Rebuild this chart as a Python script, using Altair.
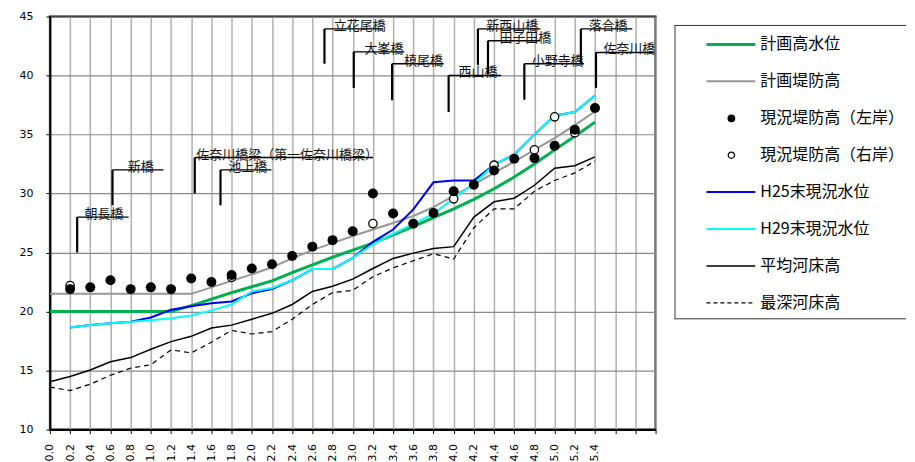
import altair as alt
import pandas as pd

# ---------------- data ----------------
km = [0.0, 0.2, 0.4, 0.6, 0.8, 1.0, 1.2, 1.4, 1.6, 1.8, 2.0, 2.2, 2.4, 2.6,
      2.8, 3.0, 3.2, 3.4, 3.6, 3.8, 4.0, 4.2, 4.4, 4.6, 4.8, 5.0, 5.2, 5.4]
tick_values = [0.0, 0.2, 0.4, 0.6, 0.8, 1.0, 1.2, 1.4, 1.6, 1.8, 2.0, 2.2, 2.4,
               2.6, 2.8, 3.0, 3.2, 3.4, 3.6, 3.8, 4.0, 4.2, 4.4, 4.6, 4.8, 5.0,
               5.2, 5.4, 5.6, 5.8, 6.0]
y_ticks = [10, 15, 20, 25, 30, 35, 40, 45]

plan_hwl = [20.0, 20.0, 20.0, 20.0, 20.0, 20.0, 20.0, 20.5, 21.05, 21.6, 22.1,
            22.6, 23.3, 23.95, 24.6, 25.2, 25.8, 26.5, 27.2, 27.95, 28.7, 29.5,
            30.4, 31.4, 32.5, 33.7, 34.85, 36.05]
plan_levee = [21.5, 21.5, 21.5, 21.5, 21.5, 21.5, 21.5, 21.5, 22.05, 22.6, 23.15,
              23.75, 24.5, 25.2, 25.8, 26.4, 26.95, 27.5, 28.1, 28.85, 29.8,
              30.75, 31.75, 32.7, 33.7, 34.7, 35.8, 36.95]
levee_left = [None, 21.9, 22.05, 22.65, 21.9, 22.05, 21.9, 22.8, 22.5, 23.1,
              23.65, 24.0, 24.7, 25.5, 26.05, 26.8, 30.0, 28.3, 27.45, 28.35,
              30.2, 30.75, 31.95, 32.95, 33.0, 34.05, 35.4, 37.25]
levee_right = [None, 22.2, None, None, None, None, None, None, None, 22.9,
               None, None, None, None, None, None, 27.45, None, None, None,
               29.55, None, 32.4, None, 33.7, 36.5, 35.15, None]
h25 = [None, 18.65, 18.85, 19.0, 19.13, 19.5, 20.15, 20.45, 20.7, 20.85, 21.55,
       21.9, 22.65, 23.6, 23.6, 24.55, 25.9, 26.95, 28.65, 30.95, 31.1, 31.1,
       32.45, 33.3, 35.0, 36.6, 36.9, 38.3]
h29 = [None, 18.65, 18.85, 19.0, 19.13, 19.27, 19.44, 19.66, 20.1, 20.6, 21.7,
       22.0, 22.65, 23.6, 23.6, 24.55, 25.7, 26.6, 27.4, 28.3, 29.6, 30.8,
       32.45, 33.3, 35.0, 36.6, 36.9, 38.3]
bed_mean = [14.05, 14.5, 15.05, 15.75, 16.1, 16.8, 17.45, 17.9, 18.6, 18.85,
            19.35, 19.85, 20.6, 21.7, 22.15, 22.75, 23.65, 24.5, 24.95, 25.35,
            25.5, 28.0, 29.3, 29.6, 30.7, 32.15, 32.35, 33.1]
bed_deep = [13.6, 13.3, 13.85, 14.6, 15.2, 15.5, 16.75, 16.5, 17.4, 18.4, 18.1,
            18.3, 19.35, 20.6, 21.6, 21.8, 22.95, 23.7, 24.3, 24.9, 24.45, 27.1,
            28.7, 28.7, 30.2, 31.1, 31.75, 32.75]

bridge_names = ["朝長橋", "新橋", "佐奈川橋梁（第一佐奈川橋梁）", "池上橋", "立花尾橋",
                "大峯橋", "槙尾橋", "西山橋", "新西山橋", "田子田橋", "小野寺橋",
                "落合橋", "佐奈川橋"]
bridge_km = [0.27, 0.62, 1.435, 1.69, 2.72, 3.01, 3.39, 3.95, 4.24, 4.34, 4.70,
             5.26, 5.41]
bridge_low = [25.0, 29.0, 30.0, 29.0, 41.0, 38.95, 37.9, 36.9, 40.9, 40.1, 37.95,
              41.0, 38.95]
bridge_high = [28.0, 32.0, 33.05, 32.0, 43.95, 42.0, 41.0, 40.0, 43.95, 42.95,
               41.0, 43.95, 41.95]
bridge_end = [0.78, 1.125, 3.2, 2.195, 3.29, 3.51, 3.9, 4.47, 4.86, 4.86, 5.29,
              5.77, 5.98]
bridge_label_km = [0.535, 0.90, 2.35, 1.96, 3.07, 3.31, 3.70, 4.24, 4.58, 4.71,
                   5.03, 5.53, 5.74]

legend_names = ["計画高水位", "計画堤防高", "現況堤防高（左岸）", "現況堤防高（右岸）",
                "H25末現況水位", "H29末現況水位", "平均河床高", "最深河床高"]
legend_kind = ["line", "line", "dot", "ring", "line", "line", "line", "dash"]
legend_color = ["#00b050", "#969696", "#000000", "#000000", "#0000ff", "#00ffff",
                "#000000", "#000000"]
legend_width = [3, 2, 1, 1, 2, 2, 1.5, 1.2]

# ---------------- helpers ----------------
FONT_NUM = "DejaVu Sans"
FONT_JP = "Noto Sans CJK JP"


def sdf(vals):
    return pd.DataFrame({"km": km, "v": vals}).dropna()


x_axis = alt.Axis(values=tick_values, title=None, grid=True, gridColor="#b0b0b0",
                  gridWidth=1.5, labelAngle=270, labelFlush=False,
                  labelExpr="datum.value <= 5.45 ? format(datum.value, '.1f') : ''",
                  tickSize=4, tickColor="#000", domainColor="#000", domainWidth=2,
                  labelPadding=10, labelFont=FONT_NUM, labelFontSize=11,
                  labelColor="#000")
y_axis = alt.Axis(values=y_ticks, title=None, grid=True, gridColor="#8a8a8a",
                  gridWidth=1.2, tickSize=4, tickColor="#000", domainColor="#000",
                  domainWidth=2, labelPadding=13, labelFont=FONT_NUM,
                  labelFlush=False, labelFontSize=11, labelColor="#000")
x_scale = alt.Scale(domain=[0, 6.0], nice=False, zero=False)
y_scale = alt.Scale(domain=[10, 45], nice=False, zero=False)


def X(f="km"):
    return alt.X(f + ":Q", scale=x_scale, axis=x_axis)


def Y(f="v"):
    return alt.Y(f + ":Q", scale=y_scale, axis=y_axis)


def line(vals, color, width, dash=None):
    kw = dict(color=color, strokeWidth=width, clip=True)
    if dash:
        kw["strokeDash"] = dash
    return alt.Chart(sdf(vals)).mark_line(**kw).encode(x=X(), y=Y())


bridges = pd.DataFrame({"name": bridge_names, "km": bridge_km, "lo": bridge_low,
                        "hi": bridge_high, "end": bridge_end,
                        "lk": bridge_label_km})

layers = [
    line(plan_levee, "#969696", 2),
    line(plan_hwl, "#00b050", 3),
    line(h25, "#0000ff", 2),
    line(h29, "#00ffff", 2),
    line(bed_mean, "#000000", 1.5),
    line(bed_deep, "#000000", 1.2, [5, 4]),
    alt.Chart(sdf(levee_right)).mark_point(shape="circle", size=70, fill="white",
                                           stroke="black", strokeWidth=1.3,
                                           opacity=1).encode(x=X(), y=Y()),
    alt.Chart(sdf(levee_left)).mark_point(shape="circle", size=100, filled=True,
                                          color="black", opacity=1).encode(x=X(), y=Y()),
    alt.Chart(bridges).mark_rule(color="black", strokeWidth=2.2).encode(
        x=X(), y=Y("lo"), y2="hi:Q"),
    alt.Chart(bridges).mark_rule(color="black", strokeWidth=1.4).encode(
        x=X(), x2="end:Q", y=Y("hi")),
    alt.Chart(bridges).mark_text(font=FONT_JP, fontSize=13, color="#111",
                                 baseline="middle", align="center", dy=-3,
                                 clip=True).encode(
        x=X("lk"), y=Y("hi"), text="name:N"),
]

main = alt.layer(*layers).properties(
    width=607, height=414,
    view=alt.ViewBackground(stroke="black", strokeWidth=2))

# ---------------- legend panel (box runs off the right edge) ----------------
LEG_W = 232
leg = pd.DataFrame({"name": legend_names, "kind": legend_kind,
                    "color": legend_color, "w": legend_width})
LY = alt.Y("name:N", scale=alt.Scale(type="point", domain=legend_names,
                                     range=[28, 287], padding=0),
           axis=None)
lbase = alt.Chart(leg)
one = lbase.transform_filter("datum.kind == 'dash'")
legend = alt.layer(
    one.mark_rule(color="#333", strokeWidth=1).encode(
        x=alt.value(0.5), y=alt.value(9), y2=alt.value(303)),
    one.mark_rule(color="#333", strokeWidth=1).encode(
        x=alt.value(0), x2=alt.value(LEG_W), y=alt.value(9)),
    one.mark_rule(color="#333", strokeWidth=1).encode(
        x=alt.value(0), x2=alt.value(LEG_W), y=alt.value(303)),
    lbase.transform_filter("datum.kind == 'line'").mark_rule().encode(
        x=alt.value(32), x2=alt.value(81), y=LY,
        color=alt.Color("color:N", scale=None),
        strokeWidth=alt.StrokeWidth("w:Q", scale=None)),
    one.mark_rule(color="black", strokeWidth=1.2, strokeDash=[4, 3]).encode(
        x=alt.value(32), x2=alt.value(81), y=LY),
    lbase.transform_filter("datum.kind == 'dot'").mark_point(
        shape="circle", size=60, filled=True, color="black", opacity=1).encode(
        x=alt.value(57), y=LY),
    lbase.transform_filter("datum.kind == 'ring'").mark_point(
        shape="circle", size=40, fill="white", stroke="black", strokeWidth=1.3,
        opacity=1).encode(x=alt.value(57), y=LY),
    lbase.mark_text(font=FONT_JP, fontSize=16, align="left", baseline="middle",
                    color="#000").encode(x=alt.value(86), y=LY, text="name:N"),
).properties(width=LEG_W, height=414,
             view=alt.ViewBackground(stroke=None))

chart = alt.hconcat(main, legend, spacing=16).properties(
    padding={"left": 10, "top": 1, "right": 0, "bottom": 0},
    background="white")

chart.save("out.html", embed_options={"renderer": "svg", "actions": False})
